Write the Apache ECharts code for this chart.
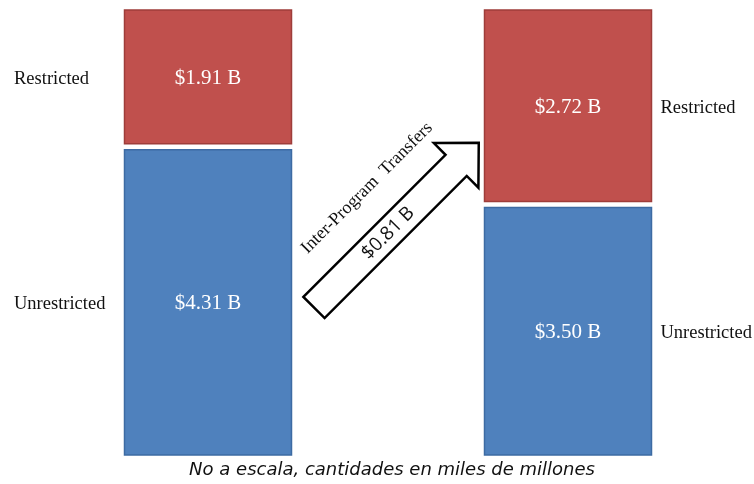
<!DOCTYPE html>
<html>
<head>
<meta charset="utf-8">
<script src="https://cdn.jsdelivr.net/npm/echarts@6/dist/echarts.min.js"></script>
<style>
html,body{margin:0;padding:0;background:#fff;}
#chart{width:754px;height:484px;}
</style>
</head>
<body>
<div id="chart"></div>
<script>
// Data
const categories = ['Before', 'After'];
const unrestricted = [4.31, 3.50];
const restricted = [1.91, 2.72];
const sideLabels = ['Restricted', 'Unrestricted'];
const transferValue = 0.81;
const transferLabel = 'Inter-Program  Transfers';
const caption = 'No a escala, cantidades en miles de millones';

const fmt = v => '$' + v.toFixed(2) + ' B';

const chart = echarts.init(document.getElementById('chart'), null, {renderer: 'canvas'});

const BLUE = '#4F81BD', BLUE_EDGE = '#3D6BA3';
const RED = '#C0504D', RED_EDGE = '#9E3D3A';
const BAR_W = 167, GAP = 3;
const SERIF = '"Liberation Serif", "DejaVu Serif", serif';

function renderItem(params, api) {
  const i = api.value(0), u = api.value(1), r = api.value(2);
  const base = api.coord([i, 0]);
  const mid = api.coord([i, u]);
  const top = api.coord([i, u + r]);
  const x0 = base[0] - BAR_W / 2;
  const blueY = mid[1] + GAP, blueH = base[1] - blueY;
  const redY = top[1], redH = mid[1] - GAP - top[1];
  const children = [
    {type: 'rect', shape: {x: x0, y: blueY, width: BAR_W, height: blueH},
     style: {fill: BLUE, stroke: BLUE_EDGE, lineWidth: 1.5}},
    {type: 'rect', shape: {x: x0, y: redY, width: BAR_W, height: redH},
     style: {fill: RED, stroke: RED_EDGE, lineWidth: 1.5}},
    {type: 'text', x: base[0], y: blueY + blueH / 2 + 1.5,
     style: {text: fmt(u), fill: '#fff', font: '21px ' + SERIF, align: 'center', verticalAlign: 'middle'}},
    {type: 'text', x: base[0], y: redY + redH / 2 + 1.5,
     style: {text: fmt(r), fill: '#fff', font: '21px ' + SERIF, align: 'center', verticalAlign: 'middle'}}
  ];
  const sideX = i === 0 ? 14 : x0 + BAR_W + 9;
  children.push(
    {type: 'text', x: sideX, y: redY + redH / 2 + 2,
     style: {text: sideLabels[0], fill: '#111', font: '18.5px ' + SERIF, align: 'left', verticalAlign: 'middle'}},
    {type: 'text', x: sideX, y: blueY + blueH / 2 + 2,
     style: {text: sideLabels[1], fill: '#111', font: '18.5px ' + SERIF, align: 'left', verticalAlign: 'middle'}}
  );
  return {type: 'group', children};
}

const totals = unrestricted.map((u, i) => u + restricted[i]);

// Arrow geometry (annotation)
const ang = Math.PI / 4;
const ox = 314, oy = 307.5;
const ux = Math.cos(ang), uy = -Math.sin(ang), nx = Math.sin(ang), ny = Math.cos(ang);
const P = (L, W) => [ox + L * ux + W * nx, oy + L * uy + W * ny];
const shaftLen = 201, totalLen = 233, sw = 15, hw = 31.5;
const arrowPts = [P(0, -sw), P(shaftLen, -sw), P(shaftLen, -hw), P(totalLen, 0), P(shaftLen, hw), P(shaftLen, sw), P(0, sw)];
const t1 = P(122, -47);
const t2 = P(105, 0);

chart.setOption({
  animation: false,
  grid: {left: 28, right: 6, top: 10, bottom: 29},
  xAxis: {type: 'category', data: categories, show: false},
  yAxis: {type: 'value', min: 0, max: Math.max(...totals), show: false},
  series: [{
    type: 'custom',
    renderItem,
    data: categories.map((c, i) => [i, unrestricted[i], restricted[i]])
  }],
  graphic: [
    {type: 'polygon', shape: {points: arrowPts}, style: {fill: '#fff', stroke: '#000', lineWidth: 2.5}},
    {type: 'text', x: t1[0], y: t1[1], rotation: ang,
     style: {text: transferLabel, fill: '#111', font: '18px ' + SERIF, align: 'center', verticalAlign: 'middle'}},
    {type: 'text', x: t2[0], y: t2[1], rotation: ang,
     style: {text: fmt(transferValue), fill: '#111', font: '19px "Open Sans", "Noto Sans", sans-serif', align: 'center', verticalAlign: 'middle'}},
    {type: 'text', x: 392, y: 470,
     style: {text: caption, fill: '#111', font: 'italic 18px "DejaVu Sans", sans-serif', align: 'center', verticalAlign: 'middle'}}
  ]
});
</script>
</body>
</html>
